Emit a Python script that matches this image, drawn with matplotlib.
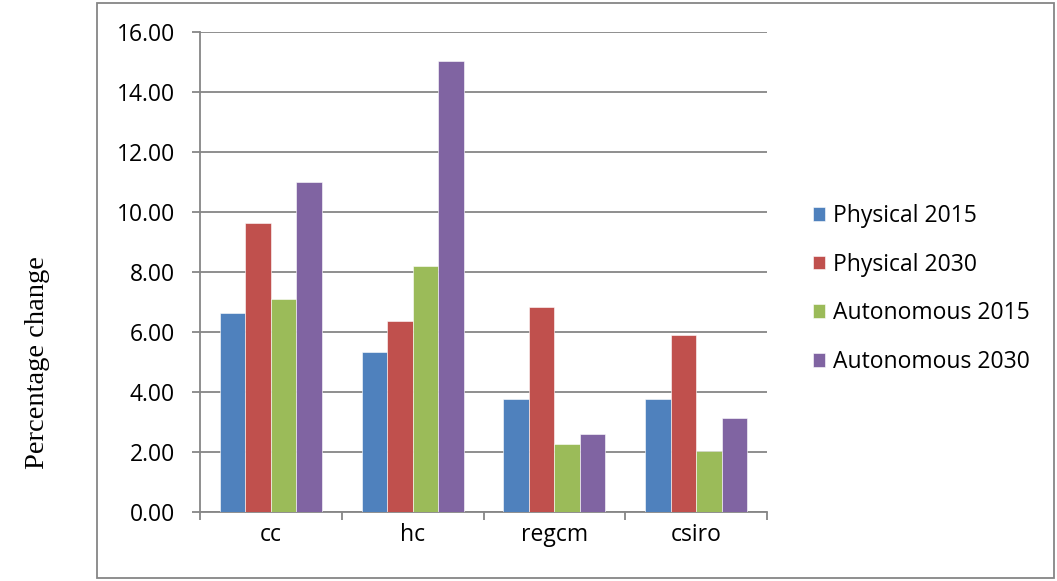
import numpy as np
import matplotlib.pyplot as plt
from matplotlib.patches import Rectangle

categories = ['cc', 'hc', 'regcm', 'csiro']
series = ['Physical 2015', 'Physical 2030', 'Autonomous 2015', 'Autonomous 2030']
phys_2015 = [6.64, 5.32, 3.78, 3.78]
phys_2030 = [9.63, 6.36, 6.84, 5.90]
auto_2015 = [7.11, 8.20, 2.27, 2.03]
auto_2030 = [11.01, 15.03, 2.60, 3.12]
yticks = [0, 2, 4, 6, 8, 10, 12, 14, 16]

colors = ['#4F81BD', '#C0504D', '#9BBB59', '#8064A2']
values = [phys_2015, phys_2030, auto_2015, auto_2030]

plt.rcParams['font.family'] = ['Open Sans', 'DejaVu Sans']

fig = plt.figure(figsize=(10.57, 5.81), dpi=100)
ax = fig.add_axes([200/1057, 69/581, 567/1057, 480/581])

x = np.arange(len(categories))
w = 0.18
for i, (vals, c, name) in enumerate(zip(values, colors, series)):
    ax.bar(x + (i - 1.5) * w, vals, w, color=c, edgecolor='white',
           linewidth=0.4, label=name, zorder=3)

ax.set_xlim(-0.5, len(categories) - 0.5)
ax.set_ylim(0, 16)
ax.set_yticks(yticks)
ax.set_yticklabels(['%.2f' % v for v in yticks])
ax.yaxis.grid(True, color='#868686', linewidth=1.3, zorder=0)
ax.set_axisbelow(True)

ax.set_xticks(x)
ax.set_xticklabels(categories)
ax.set_xticks(np.arange(-0.5, len(categories)), minor=True)
ax.tick_params(axis='x', which='major', length=0, pad=8, labelsize=16.5)
ax.tick_params(axis='x', which='minor', length=6, width=1.3, color='#868686')
ax.tick_params(axis='y', length=6, width=1.3, color='#868686', pad=12, labelsize=16.5)

for s in ['top', 'right']:
    ax.spines[s].set_visible(False)
for s in ['left', 'bottom']:
    ax.spines[s].set_color('#868686')
    ax.spines[s].set_linewidth(1.3)

fig.text(38/1057, 1 - 363/581, 'Percentage change', rotation=90,
         va='center', ha='center', family='Liberation Serif', fontsize=20.5)

ax.legend(loc='center left', bbox_to_anchor=(792/1057, 1 - 289/581),
          bbox_transform=fig.transFigure, frameon=False, fontsize=16.5,
          handlelength=0.55, handleheight=0.55, handletextpad=0.35,
          labelspacing=1.08)

fig.patches.append(Rectangle((97/1057, 3/581), 957/1057, 575/581,
                             transform=fig.transFigure, fill=False,
                             edgecolor='#868686', linewidth=1.3))

plt.savefig('out.png', dpi=100)
